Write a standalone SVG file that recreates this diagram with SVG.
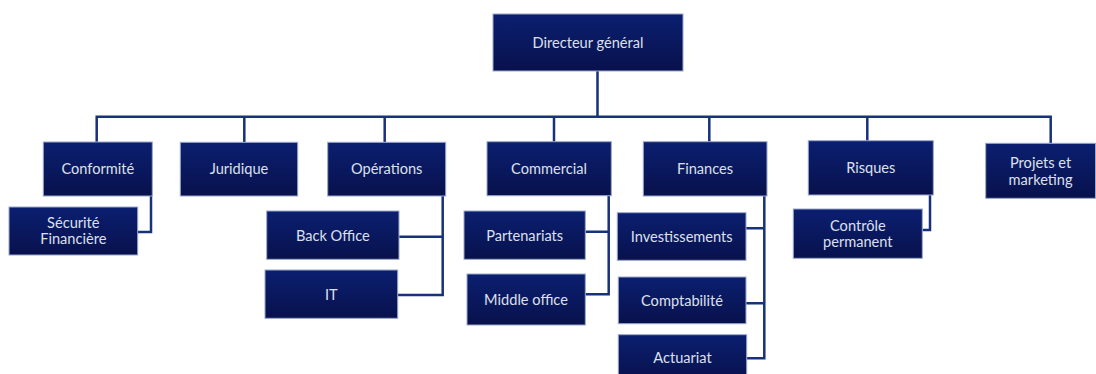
<svg xmlns="http://www.w3.org/2000/svg" width="1096" height="374" viewBox="0 0 1096 374">
<defs>
<linearGradient id="g" x1="0" y1="0" x2="0" y2="1">
<stop offset="0" stop-color="#0b1f70"/>
<stop offset="1" stop-color="#08114c"/>
</linearGradient>
</defs>
<style>
.b{fill:url(#g);stroke:#9aa8cc;stroke-width:1}
.t{font-family:Lato,"Open Sans",sans-serif;font-size:14.6px;fill:#dde0ec;text-anchor:middle;dominant-baseline:central}
.c{fill:none;stroke:#17317a;stroke-width:2.5}
</style>
<rect width="1096" height="374" fill="#ffffff"/>
<g id="connectors">
<path class="c" d="M597.5 71V116.7M96.7 142V116.7H1050.7V143M244.3 116.7V142M384.7 116.7V142M554 116.7V142M709.3 116.7V142M867.3 116.7V141"/>
<path class="c" d="M151 196V232H137.7"/>
<path class="c" d="M442.7 196V295H397.7M442.7 236.7H399"/>
<path class="c" d="M608.7 196V294.3H585.3M608.7 231.7H585.3"/>
<path class="c" d="M764.3 196V358.3H746.7M764.3 228.3H746M764.3 303.3H746"/>
<path class="c" d="M930 195V230H922.3"/>
</g>
<g id="n-dg"><rect class="b" x="493" y="14" width="190" height="57"/><text class="t" x="588" y="42">Directeur général</text></g>
<g id="n-conformite"><rect class="b" x="43.3" y="142" width="109" height="54"/><text class="t" x="97.8" y="168.5">Conformité</text></g>
<g id="n-securite"><rect class="b" x="9" y="207" width="128.7" height="48"/><text class="t" x="73.3" y="222.2">Sécurité</text><text class="t" x="73.3" y="238.8">Financière</text></g>
<g id="n-juridique"><rect class="b" x="180.3" y="142.3" width="117.4" height="53.7"/><text class="t" x="239" y="168.5">Juridique</text></g>
<g id="n-operations"><rect class="b" x="327.7" y="142.3" width="118" height="53.7"/><text class="t" x="386.7" y="168.5">Opérations</text></g>
<g id="n-backoffice"><rect class="b" x="266.7" y="211" width="132.3" height="48.3"/><text class="t" x="332.8" y="235">Back Office</text></g>
<g id="n-it"><rect class="b" x="265" y="270" width="132.7" height="48.3"/><text class="t" x="331.3" y="294">IT</text></g>
<g id="n-commercial"><rect class="b" x="487" y="141.7" width="124.3" height="54"/><text class="t" x="549" y="168.2">Commercial</text></g>
<g id="n-partenariats"><rect class="b" x="464" y="211" width="121.3" height="48.3"/><text class="t" x="524.7" y="235.5">Partenariats</text></g>
<g id="n-middle"><rect class="b" x="467" y="274" width="118.3" height="51"/><text class="t" x="526" y="299">Middle office</text></g>
<g id="n-finances"><rect class="b" x="643.3" y="141.7" width="123.7" height="54.3"/><text class="t" x="705" y="168.5">Finances</text></g>
<g id="n-investissements"><rect class="b" x="617.3" y="212.7" width="128.7" height="47.6"/><text class="t" x="681.7" y="236.5">Investissements</text></g>
<g id="n-comptabilite"><rect class="b" x="618.3" y="277" width="127.7" height="46.7"/><text class="t" x="682" y="300.5">Comptabilité</text></g>
<g id="n-actuariat"><rect class="b" x="618.3" y="334.7" width="128.4" height="46"/><text class="t" x="682.5" y="357.8">Actuariat</text></g>
<g id="n-risques"><rect class="b" x="808.3" y="140.7" width="125" height="54.3"/><text class="t" x="870.8" y="167.5">Risques</text></g>
<g id="n-controle"><rect class="b" x="793.3" y="209" width="129" height="49.3"/><text class="t" x="857.8" y="225.5">Contrôle</text><text class="t" x="857.8" y="241.8">permanent</text></g>
<g id="n-projets"><rect class="b" x="985.7" y="143.3" width="109.8" height="55"/><text class="t" x="1040.6" y="162.8">Projets et</text><text class="t" x="1040.6" y="179.5">marketing</text></g>
</svg>
